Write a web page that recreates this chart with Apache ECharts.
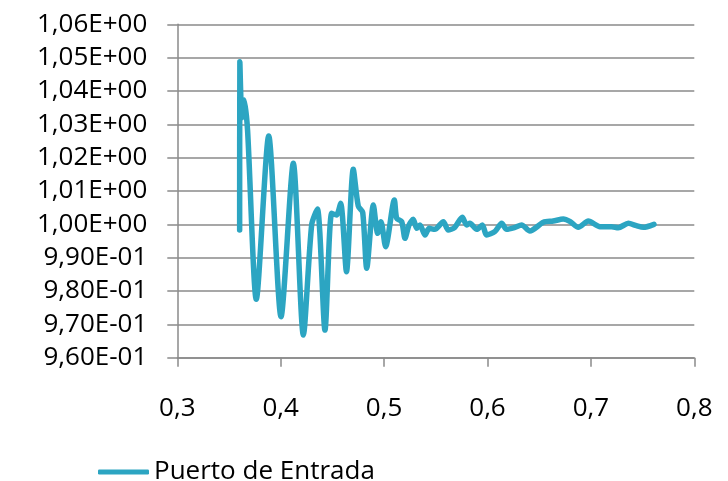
<!DOCTYPE html>
<html>
<head>
<meta charset="utf-8">
<script src="https://cdn.jsdelivr.net/npm/echarts@6/dist/echarts.min.js"></script>
<style>html,body{margin:0;padding:0;background:#fff;}#c{width:728px;height:481px;}</style>
</head>
<body>
<div id="c"></div>
<script>
var seriesName = 'Puerto de Entrada';
var xValues = [0.3603,0.3605,0.3625,0.3648,0.3680,0.3764,0.3884,0.4003,0.4122,0.4219,0.4300,0.4355,0.4428,0.4493,0.4540,0.4580,0.4636,0.4702,0.4750,0.4793,0.4832,0.4896,0.4938,0.4970,0.5015,0.5099,0.5122,0.5170,0.5202,0.5241,0.5282,0.5315,0.5347,0.5396,0.5435,0.5490,0.5573,0.5620,0.5680,0.5756,0.5798,0.5830,0.5895,0.5950,0.5992,0.6070,0.6137,0.6185,0.6260,0.6330,0.6410,0.6540,0.6636,0.6733,0.6800,0.6878,0.6975,0.7088,0.7200,0.7265,0.7362,0.7440,0.7507,0.7610];
var yValues = [0.9983,1.0488,1.0320,1.0373,1.0280,0.9775,1.0265,0.9723,1.0183,0.9668,1.0000,1.0046,0.9683,1.0033,1.0028,1.0063,0.9858,1.0165,1.0055,1.0036,0.9868,1.0058,0.9973,1.0008,0.9933,1.0073,1.0018,1.0008,0.9958,0.9998,1.0015,0.9988,0.9998,0.9968,0.9988,0.9985,1.0008,0.9983,0.9990,1.0021,0.9998,1.0003,0.9985,0.9998,0.9968,0.9978,1.0003,0.9985,0.9990,0.9998,0.9980,1.0006,1.0010,1.0016,1.0008,0.9991,1.0010,0.9993,0.9993,0.9990,1.0003,0.9996,0.9991,1.0000];
var xTickLabels = ['0,3','0,4','0,5','0,6','0,7','0,8'];
var yTickLabels = ['9,60E-01','9,70E-01','9,80E-01','9,90E-01','1,00E+00','1,01E+00','1,02E+00','1,03E+00','1,04E+00','1,05E+00','1,06E+00'];
var xMin = 0.3, xMax = 0.8, xStep = 0.1;
var yMin = 0.96, yMax = 1.06, yStep = 0.01;

var data = xValues.map(function (x, i) { return [x, yValues[i]]; });
var font = '"Open Sans", sans-serif';
var chart = echarts.init(document.getElementById('c'), null, {renderer: 'canvas'});
chart.setOption({
  animation: false,
  backgroundColor: '#ffffff',
  grid: {left: 177.3, right: 33.7, top: 24.3, bottom: 123.3, containLabel: false},
  legend: {
    data: [seriesName], left: 93, top: 454, icon: 'roundRect', itemWidth: 51, itemHeight: 5,
    textStyle: {fontFamily: font, fontSize: 26, color: '#000'}
  },
  xAxis: {
    type: 'value', min: xMin, max: xMax, interval: xStep,
    axisLine: {show: true, lineStyle: {color: '#8a8a8a', width: 1.5}},
    axisTick: {show: true, length: 9, lineStyle: {color: '#8a8a8a', width: 1.5}},
    splitLine: {show: false},
    axisLabel: {margin: 38, fontFamily: font, fontSize: 26, color: '#000',
      formatter: function (v) { return xTickLabels[Math.round((v - xMin) / xStep)]; }}
  },
  yAxis: {
    type: 'value', min: yMin, max: yMax, interval: yStep,
    axisLine: {show: true, lineStyle: {color: '#8a8a8a', width: 1.5}},
    axisTick: {show: true, length: 10, lineStyle: {color: '#8a8a8a', width: 1.5}},
    splitLine: {show: true, lineStyle: {color: '#8a8a8a', width: 1.5}},
    axisLabel: {margin: 30, fontFamily: font, fontSize: 26, color: '#000',
      formatter: function (v) { return yTickLabels[Math.round((v - yMin) / yStep)]; }}
  },
  series: [{
    name: seriesName, type: 'line', data: data, showSymbol: false, symbol: 'none',
    smooth: 0.25, color: '#2ca5c2',
    lineStyle: {color: '#2ca5c2', width: 5.5, cap: 'round', join: 'round'}
  }]
});
</script>
</body>
</html>
